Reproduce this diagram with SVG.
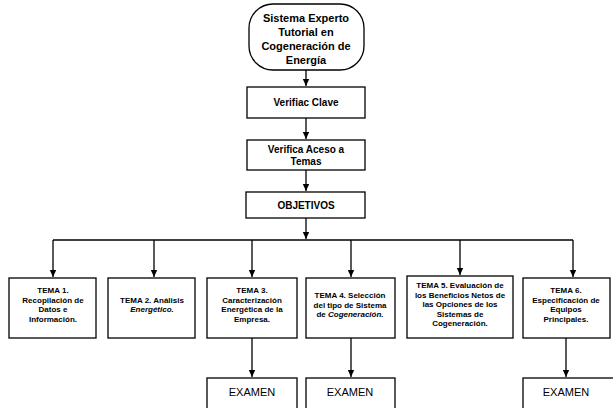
<svg xmlns="http://www.w3.org/2000/svg" width="613" height="408" viewBox="0 0 613 408">
<style>
.box{fill:#fff;stroke:#000;stroke-width:1.3}
.t{font-family:"Liberation Sans",Arial,sans-serif;font-weight:bold;fill:#000;text-anchor:middle}
.s{font-size:8px}
.m{font-size:10px}
.l{font-size:11px}
.e{font-size:11px;font-weight:normal}
.c{fill:none;stroke:#000;stroke-width:1.3}
</style>
<defs>
<marker id="ah" markerWidth="8" markerHeight="8" refX="7" refY="4" orient="auto" markerUnits="userSpaceOnUse">
<path d="M0,0.8 L7,4 L0,7.2 Z" fill="#000"/>
</marker>
</defs>
<g id="connectors">
<path class="c" d="M306,70 V86" marker-end="url(#ah)"/>
<path class="c" d="M306,118 V139" marker-end="url(#ah)"/>
<path class="c" d="M306,170 V191" marker-end="url(#ah)"/>
<path class="c" d="M306,218 V239" marker-end="url(#ah)"/>
<path class="c" d="M53,240 H573"/>
<path class="c" d="M53,240 V277" marker-end="url(#ah)"/>
<path class="c" d="M154,240 V277" marker-end="url(#ah)"/>
<path class="c" d="M252,240 V277" marker-end="url(#ah)"/>
<path class="c" d="M351,240 V277" marker-end="url(#ah)"/>
<path class="c" d="M460,240 V275" marker-end="url(#ah)"/>
<path class="c" d="M573,240 V277" marker-end="url(#ah)"/>
<path class="c" d="M252,338 V377" marker-end="url(#ah)"/>
<path class="c" d="M351,338 V377" marker-end="url(#ah)"/>
<path class="c" d="M566,338 V377" marker-end="url(#ah)"/>
</g>
<g id="inicio">
<rect class="box" x="249" y="4" width="115" height="66" rx="24" ry="24"/>
<text class="t l" x="306" y="22">Sistema Experto</text>
<text class="t l" x="306" y="36">Tutorial en</text>
<text class="t l" x="306" y="50">Cogeneración de</text>
<text class="t l" x="306" y="64">Energía</text>
</g>
<g id="clave">
<rect class="box" x="247" y="87" width="118" height="31"/>
<text class="t m" x="306" y="106">Verifiac Clave</text>
</g>
<g id="acceso">
<rect class="box" x="247" y="140" width="118" height="30"/>
<text class="t m" x="306" y="153">Verifica Aceso a</text>
<text class="t m" x="306" y="165">Temas</text>
</g>
<g id="objetivos">
<rect class="box" x="246" y="192" width="119" height="26"/>
<text class="t m" x="306" y="209">OBJETIVOS</text>
</g>
<g id="tema1">
<rect class="box" x="9" y="278" width="87" height="60"/>
<text class="t s" x="53" y="293">TEMA 1.</text>
<text class="t s" x="53" y="302.5">Recopilación de</text>
<text class="t s" x="53" y="312">Datos e</text>
<text class="t s" x="53" y="321.5">Información.</text>
</g>
<g id="tema2">
<rect class="box" x="108" y="278" width="87" height="60"/>
<text class="t s" x="152" y="302.5">TEMA 2. Análisis</text>
<text class="t s" x="152" y="312" font-style="italic">Energético.</text>
</g>
<g id="tema3">
<rect class="box" x="207" y="278" width="90" height="60"/>
<text class="t s" x="252" y="293">TEMA 3.</text>
<text class="t s" x="252" y="302.5">Caracterización</text>
<text class="t s" x="252" y="312">Energética de la</text>
<text class="t s" x="252" y="321.5">Empresa.</text>
</g>
<g id="tema4">
<rect class="box" x="306" y="278" width="89" height="60"/>
<text class="t s" x="350" y="298">TEMA 4. Selección</text>
<text class="t s" x="350" y="307.5">del tipo de Sistema</text>
<text class="t s" x="350" y="317">de <tspan font-style="italic">Cogeneración.</tspan></text>
</g>
<g id="tema5">
<rect class="box" x="407" y="276" width="106" height="62"/>
<text class="t s" x="460" y="288">TEMA 5. Evaluación de</text>
<text class="t s" x="460" y="297.5">los Beneficios Netos de</text>
<text class="t s" x="460" y="307">las Opciones de los</text>
<text class="t s" x="460" y="316.5">Sistemas de</text>
<text class="t s" x="460" y="326">Cogeneración.</text>
</g>
<g id="tema6">
<rect class="box" x="523" y="278" width="87" height="60"/>
<text class="t s" x="566" y="293">TEMA 6.</text>
<text class="t s" x="566" y="302.5">Especificación de</text>
<text class="t s" x="566" y="312">Equipos</text>
<text class="t s" x="566" y="321.5">Principales.</text>
</g>
<g id="examen3">
<rect class="box" x="207" y="378" width="90" height="40"/>
<text class="t e" x="252" y="396">EXAMEN</text>
</g>
<g id="examen4">
<rect class="box" x="306" y="378" width="89" height="40"/>
<text class="t e" x="350" y="396">EXAMEN</text>
</g>
<g id="examen6">
<rect class="box" x="523" y="378" width="100" height="40"/>
<text class="t e" x="566" y="396">EXAMEN</text>
</g>
</svg>
